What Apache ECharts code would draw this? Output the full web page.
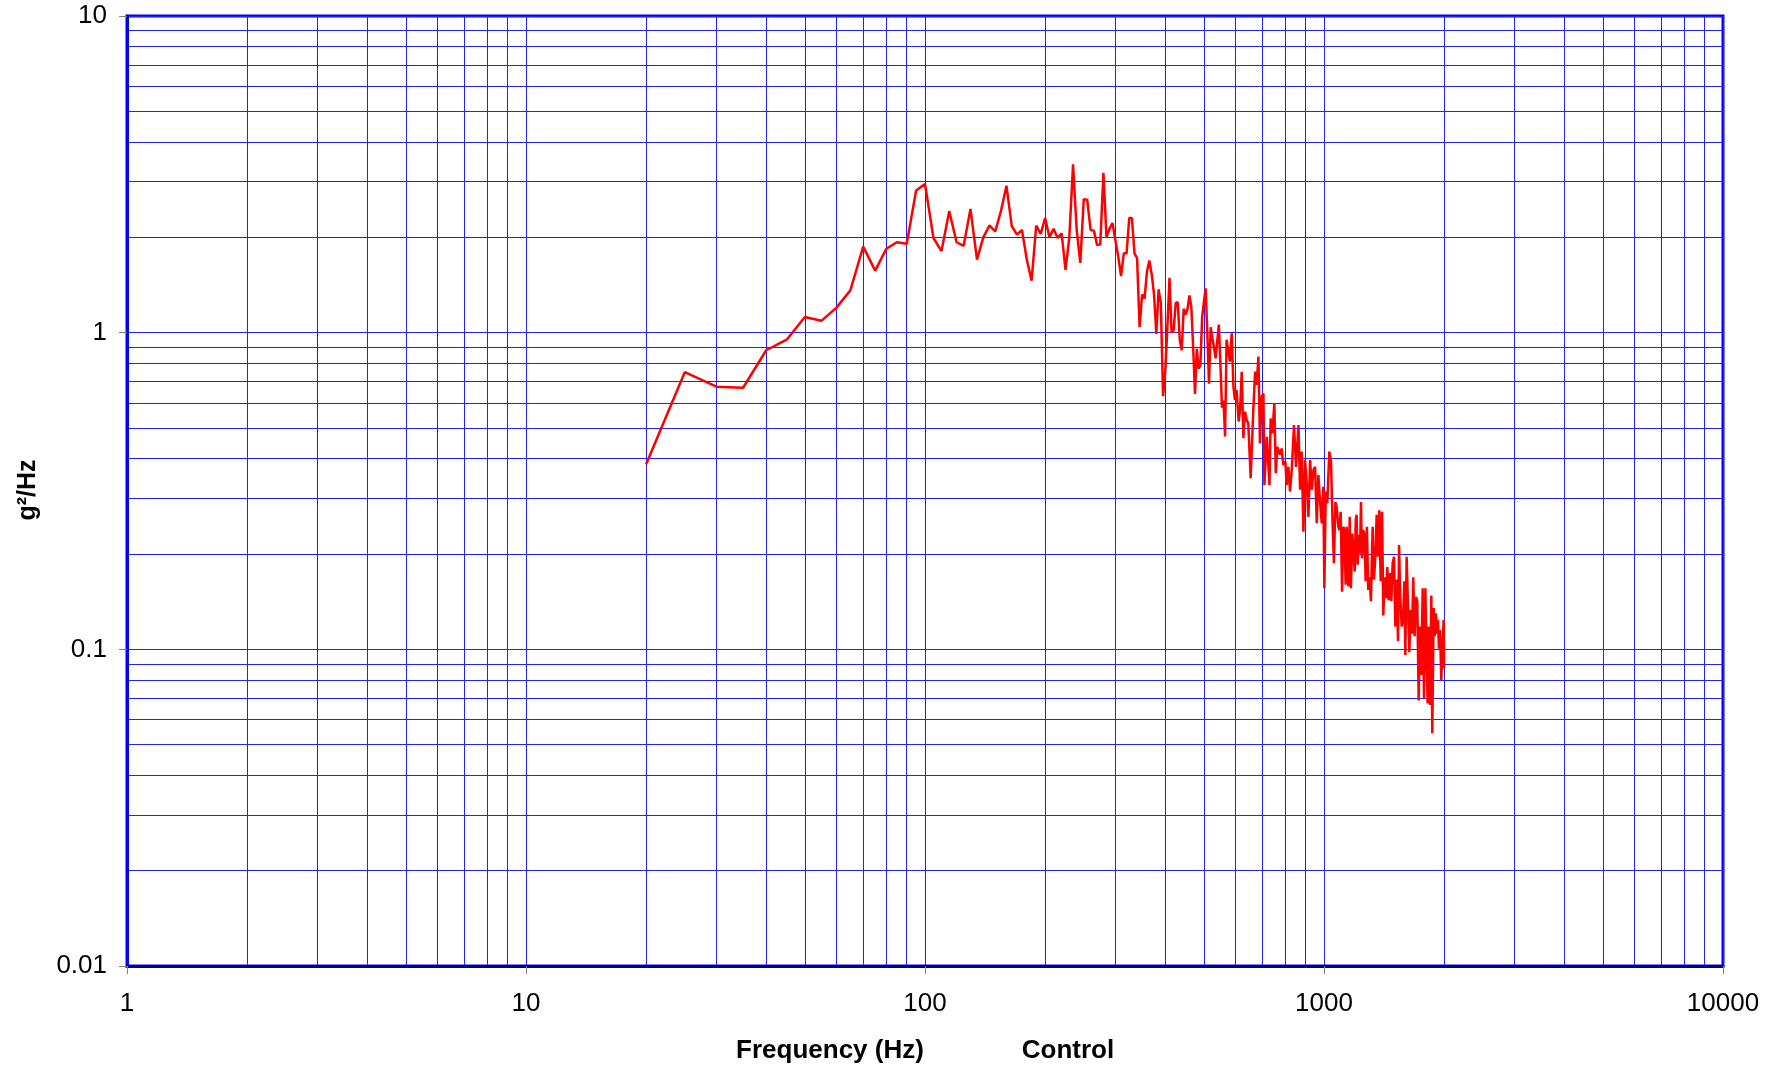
<!DOCTYPE html>
<html>
<head>
<meta charset="utf-8">
<script src="https://cdn.jsdelivr.net/npm/echarts@6/dist/echarts.min.js"></script>
<style>
html,body{margin:0;padding:0;background:#fff;}
#chart{width:1780px;height:1069px;}
</style>
</head>
<body>
<div id="chart"></div>
<script>
// Frequency (Hz) of each PSD line
const freqHz = [
  20,25,30,35,40,45,50,55,60,65,70,75,80,85,90,95,100,
  105,110,115,120,125,130,135,140,145,150,155,160,165,170,175,180,185,190,195,200,
  205,210,215,220,225,230,235,240,245,250,255,260,265,270,275,280,285,290,295,
  300,305,310,315,320,325,330,335,340,345,350,355,360,365,370,375,380,385,390,395,
  400,405,410,415,420,425,430,435,440,445,450,455,460,465,470,475,480,485,490,495,
  500,505,510,515,520,525,530,535,540,545,550,555,560,565,570,
  581,587,593,598,604,611,616,622,628,634,640,646,655,665,672,678,685,691,698,705,
  709,719,730,735,742,751,757,764,776,783,791,800,806,814,822,830,841,851,863,871,
  879,888,896,905,914,923,932,941,950,959,968,977,
  987,996,1002,1010,1019,1031,1041,1051,1059,1068,1076,1086,1093,1101,1110,1118,1125,1133,1140,1151,
  1160,1168,1178,1184,1194,1201,1207,1214,1224,1231,1238,1245,1254,1262,1272,1281,1291,1301,1311,1324,
  1334,1345,1355,1366,1376,1387,1398,1408,1419,1430,1441,1452,1463,1475,1486,1498,1509,1521,1533,1542,
  1553,1566,1578,1590,1599,1611,1624,1636,1649,1662,1674,1687,1700,1713,1727,1740,1754,1767,1781,1795,
  1805,1819,1829,1844,1858,1868,1883,1894,1908,1919,1930,1941,1953,1968,1979,1995,2000
];
// Control PSD (g²/Hz)
const psdG2Hz = [
  0.384,0.75,0.675,0.67,0.88,0.95,1.12,1.09,1.2,1.36,1.87,1.57,1.84,1.93,1.91,2.81,2.95,
  1.99,1.81,2.42,1.93,1.88,2.46,1.7,2.0,2.18,2.09,2.42,2.91,2.17,2.04,2.11,1.7,1.46,2.18,2.05,2.3,
  2.0,2.13,1.99,2.06,1.58,2.0,3.4,2.11,1.66,2.64,2.63,2.11,2.1,1.89,1.9,3.2,2.0,2.13,2.22,
  1.96,1.74,1.51,1.78,1.78,2.3,2.3,1.78,1.72,1.04,1.32,1.28,1.56,1.69,1.53,1.32,0.99,1.37,1.24,0.63,
  0.75,1.04,1.49,1.0,1.02,1.24,1.25,0.95,0.88,1.19,1.14,1.19,1.31,1.21,0.9,0.64,0.89,0.77,0.79,1.12,
  1.25,1.38,1.0,0.69,1.04,0.96,0.9,0.83,0.83,1.06,0.8,0.58,0.61,0.47,0.95,
  0.81,0.995,0.675,0.613,0.659,0.524,0.57,0.753,0.464,0.563,0.53,0.517,0.347,0.57,0.753,0.684,0.84,0.447,0.628,0.643,
  0.33,0.469,0.33,0.536,0.481,0.598,0.36,0.436,0.411,0.431,0.382,0.392,0.33,0.377,0.315,0.368,0.511,0.377,0.511,0.319,
  0.421,0.235,0.396,0.338,0.262,0.396,0.319,0.368,0.377,0.25,0.355,0.296,
  0.25,0.326,0.156,0.315,0.289,0.421,0.396,0.247,0.187,0.292,0.282,0.244,0.238,0.272,0.152,0.244,0.238,0.16,0.244,0.158,
  0.262,0.156,0.232,0.208,0.176,0.256,0.266,0.185,0.23,0.201,0.292,0.194,0.238,0.232,0.164,0.244,0.154,0.169,0.142,0.244,
  0.166,0.196,0.266,0.196,0.275,0.164,0.272,0.128,0.169,0.145,0.182,0.143,0.174,0.142,0.187,0.196,0.118,0.166,0.106,0.2135,
  0.145,0.118,0.124,0.164,0.096,0.196,0.136,0.098,0.133,0.112,0.169,0.11,0.1465,0.142,0.069,0.118,0.083,0.156,0.07,0.156,
  0.102,0.0675,0.118,0.0667,0.148,0.0543,0.135,0.11,0.13,0.112,0.124,0.1005,0.115,0.08,0.1005,0.124,0.087
];
const xTickLabels = ['1','10','100','1000','10000'];
const yTickLabels = ['0.01','0.1','1','10'];
const xTitle = 'Frequency (Hz)';
const yTitle = 'g²/Hz';
const seriesName = 'Control';

const FONT = '"Liberation Sans", Arial, sans-serif';
const GRID_BLUE = '#1f1fff';
const gridLine = {color: GRID_BLUE, width: 1, type: 'solid'};

const chart = echarts.init(document.getElementById('chart'), null, {renderer: 'canvas'});
chart.setOption({
  animation: false,
  backgroundColor: '#ffffff',
  grid: {
    left: 127, right: 57, top: 16, bottom: 103,
    show: true, borderColor: '#0000ff', borderWidth: 3, backgroundColor: 'transparent'
  },
  xAxis: {
    type: 'log', logBase: 10, min: 1, max: 10000,
    axisLine: {show: true, onZero: false, lineStyle: {color: '#000080', width: 3}},
    axisTick: {show: true, length: 8, inside: false, lineStyle: {color: '#808080', width: 1}},
    axisLabel: {
      margin: 25, color: '#000', fontFamily: FONT, fontSize: 26,
      formatter: function (v) { const i = Math.round(Math.log10(v)); return xTickLabels[i] !== undefined ? xTickLabels[i] : ''; }
    },
    splitLine: {show: true, lineStyle: gridLine},
    minorTick: {show: false, splitNumber: 9},
    minorSplitLine: {show: true, lineStyle: gridLine}
  },
  yAxis: {
    type: 'log', logBase: 10, min: 0.01, max: 10,
    axisLine: {show: true, onZero: false, lineStyle: {color: '#0000ff', width: 3}},
    axisTick: {show: true, length: 8, inside: false, lineStyle: {color: '#808080', width: 1}},
    axisLabel: {
      margin: 20, color: '#000', fontFamily: FONT, fontSize: 26,
      formatter: function (v) { const i = Math.round(Math.log10(v)) + 2; return yTickLabels[i] !== undefined ? yTickLabels[i] : ''; }
    },
    splitLine: {show: true, lineStyle: gridLine},
    minorTick: {show: false, splitNumber: 9},
    minorSplitLine: {show: true, lineStyle: gridLine}
  },
  graphic: [
    {type: 'text', x: 830, y: 1051, silent: true,
     style: {text: xTitle, font: 'bold 26px ' + FONT, fill: '#000', textAlign: 'center', textVerticalAlign: 'middle'}},
    {type: 'text', x: 1068, y: 1051, silent: true,
     style: {text: seriesName, font: 'bold 26px ' + FONT, fill: '#000', textAlign: 'center', textVerticalAlign: 'middle'}},
    {type: 'text', x: 28, y: 490, rotation: Math.PI / 2, silent: true,
     style: {text: yTitle, font: 'bold 25px ' + FONT, fill: '#000', textAlign: 'center', textVerticalAlign: 'middle'}}
  ],
  series: [
    {
      type: 'line', name: seriesName, z: 5,
      data: freqHz.map((f, i) => [f, psdG2Hz[i]]),
      showSymbol: false, symbol: 'none',
      lineStyle: {color: '#ff0000', width: 2.5},
      itemStyle: {color: '#ff0000'}
    }
  ]
});
</script>
</body>
</html>
